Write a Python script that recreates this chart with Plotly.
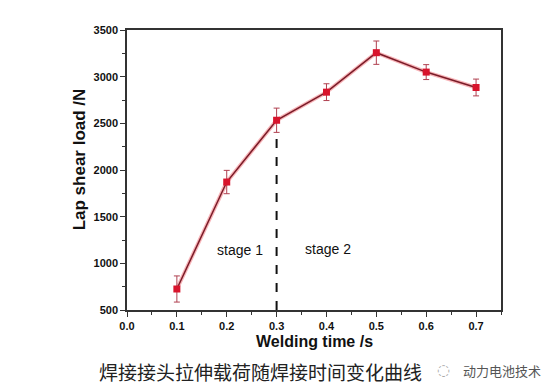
import plotly.graph_objects as go

# Data
welding_time = [0.1, 0.2, 0.3, 0.4, 0.5, 0.6, 0.7]
lap_shear_load = [725, 1871, 2533, 2834, 3257, 3049, 2884]
load_error = [140, 125, 130, 90, 125, 80, 90]

x_ticks = [0.0, 0.1, 0.2, 0.3, 0.4, 0.5, 0.6, 0.7]
x_tick_labels = ["0.0", "0.1", "0.2", "0.3", "0.4", "0.5", "0.6", "0.7"]
y_ticks = [500, 1000, 1500, 2000, 2500, 3000, 3500]

stage_labels = ["stage 1", "stage 2"]
stage_x = [0.226, 0.404]
stage_y = [1140, 1150]
boundary_time = 0.3

caption = "焊接接头拉伸载荷随焊接时间变化曲线"
watermark = "动力电池技术"

fig = go.Figure()

# soft halo under the line
fig.add_trace(go.Scatter(
    x=welding_time, y=lap_shear_load, mode="lines",
    line=dict(color="rgba(240,90,100,0.45)", width=4),
    hoverinfo="skip", showlegend=False))

fig.add_trace(go.Scatter(
    x=welding_time, y=lap_shear_load, mode="lines+markers",
    line=dict(color="#7a1c28", width=1.5),
    marker=dict(symbol="square", size=7, color="#d8142c"),
    error_y=dict(type="data", array=load_error, visible=True,
                 color="#b04050", thickness=1, width=3),
    showlegend=False))

bi = welding_time.index(boundary_time)
fig.add_shape(type="line", xref="x", yref="y",
              x0=boundary_time, x1=boundary_time,
              y0=y_ticks[0], y1=lap_shear_load[bi] - load_error[bi],
              line=dict(color="#111111", width=2, dash="dash"))

for t, sx, sy in zip(stage_labels, stage_x, stage_y):
    fig.add_annotation(x=sx, y=sy, xref="x", yref="y", text=t, showarrow=False,
                       font=dict(family="Liberation Sans, Arial", size=14, color="#111111"))

axis_font = dict(family="Liberation Sans, Arial", size=11, color="#111111", weight="bold")

fig.update_xaxes(range=[0, 0.75], tickvals=x_ticks, ticktext=x_tick_labels,
                 ticks="outside", ticklen=5, tickwidth=1, tickcolor="#333333",
                 minor=dict(dtick=0.05, ticks="outside", ticklen=3, tickcolor="#333333", tick0=0),
                 showline=True, linecolor="#333333", linewidth=1.5, mirror=True,
                 showgrid=False, zeroline=False, tickfont=axis_font)
fig.update_yaxes(range=[500, 3500], tickvals=y_ticks,
                 ticks="outside", ticklen=5, tickwidth=1, tickcolor="#333333",
                 minor=dict(dtick=250, ticks="outside", ticklen=3, tickcolor="#333333", tick0=500),
                 showline=True, linecolor="#333333", linewidth=1.5, mirror=True,
                 showgrid=False, zeroline=False, tickfont=axis_font)

fig.add_annotation(x=0.5, y=0, xref="paper", yref="paper", yshift=-31,
                   text="Welding time /s", showarrow=False, yanchor="middle",
                   font=dict(family="Liberation Sans, Arial", size=16, color="#111111", weight="bold"))
fig.add_annotation(x=0, y=0.538, xref="paper", yref="paper", xshift=-48,
                   text="Lap shear load /N", showarrow=False, textangle=-90,
                   xanchor="center", yanchor="middle",
                   font=dict(family="Liberation Sans, Arial", size=17, color="#111111", weight="bold"))

fig.add_annotation(x=0.356, y=0, xref="paper", yref="paper", yshift=-61,
                   text=caption, showarrow=False, yanchor="middle",
                   font=dict(family="Noto Sans CJK SC", size=19, color="#222222"))
fig.add_annotation(x=1, y=0, xref="paper", yref="paper", xshift=-58, yshift=-60,
                   text="◌", showarrow=False, yanchor="middle", xanchor="center",
                   font=dict(family="DejaVu Sans", size=15, color="#aaaaaa"))
fig.add_annotation(x=1, y=0, xref="paper", yref="paper", xshift=1, yshift=-60,
                   text=watermark, showarrow=False, yanchor="middle", xanchor="center",
                   font=dict(family="Noto Sans CJK SC", size=13, color="#555555"))

fig.update_layout(width=549, height=386,
                  margin=dict(l=119, r=56, t=22, b=84),
                  paper_bgcolor="white", plot_bgcolor="white")

fig.write_html("out.html")
